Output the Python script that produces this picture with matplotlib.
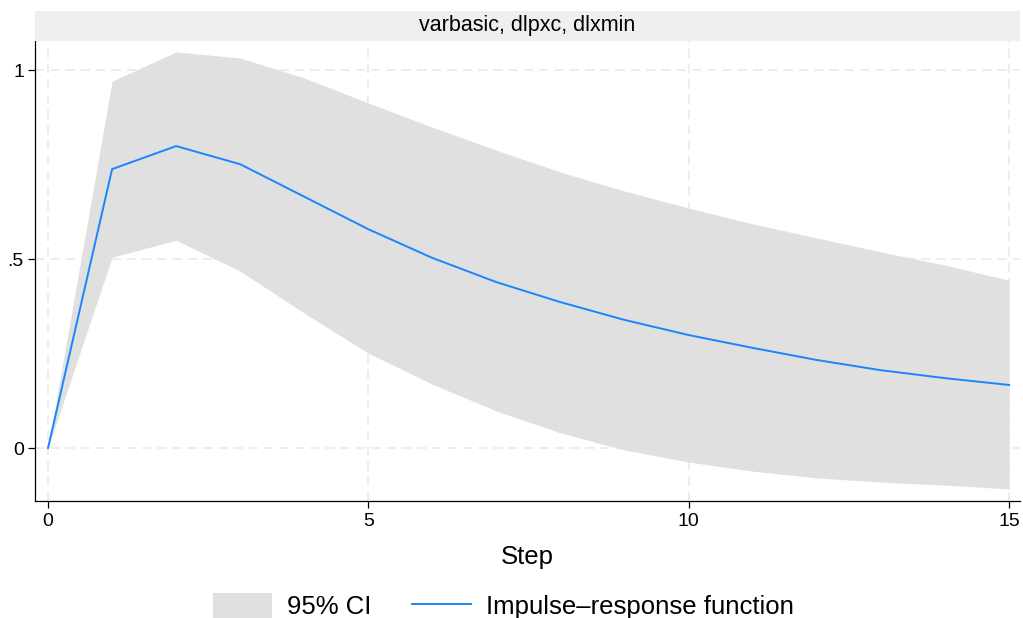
import numpy as np
import matplotlib.pyplot as plt
from matplotlib.patches import Patch
from matplotlib.lines import Line2D

plt.rcParams['font.family'] = ['Liberation Sans', 'DejaVu Sans']

# 数据
steps = np.arange(16)
irf = [0.0, 0.738, 0.799, 0.751, 0.665, 0.579, 0.503, 0.439, 0.386,
       0.339, 0.299, 0.265, 0.233, 0.206, 0.185, 0.167]
ci_upper = [0.0, 0.971, 1.048, 1.032, 0.979, 0.913, 0.849, 0.788, 0.730,
            0.680, 0.635, 0.593, 0.556, 0.519, 0.484, 0.444]
ci_lower = [0.0, 0.505, 0.550, 0.468, 0.357, 0.251, 0.169, 0.098, 0.040,
            -0.005, -0.037, -0.061, -0.079, -0.090, -0.098, -0.108]
panel_title = "varbasic, dlpxc, dlxmin"
x_ticks = [0, 5, 10, 15]
y_ticks = [0, 0.5, 1]
y_ticklabels = ["0", ".5", "1"]

W, H = 1023, 618
fig = plt.figure(figsize=(W / 100, H / 100), dpi=100)

# 主图
ax = fig.add_axes([35 / W, (H - 501) / H, 985 / W, 460 / H])
ax.fill_between(steps, ci_lower, ci_upper, color='#e0e0e0', lw=0, zorder=1)
ax.plot(steps, irf, color='#1a85ff', lw=1.4, zorder=3)

ax.set_xlim(-0.203, 15.17)
ax.set_ylim(-0.140, 1.077)
ax.set_xticks(x_ticks)
ax.set_yticks(y_ticks)
ax.set_yticklabels(y_ticklabels)
ax.tick_params(axis='both', labelsize=14, length=5, width=0.9, direction='out')
ax.tick_params(axis='x', pad=4)
ax.tick_params(axis='y', pad=3)
ax.grid(True, color='#e8e8e8', ls=(0, (6, 4)), lw=1.1, zorder=0)
ax.set_axisbelow(True)
for s in ['top', 'right']:
    ax.spines[s].set_visible(False)
for s in ['left', 'bottom']:
    ax.spines[s].set_linewidth(0.9)
ax.set_xlabel("Step", fontsize=18.5)
ax.xaxis.set_label_coords(0.5, -0.095)

# 标题条
hax = fig.add_axes([35 / W, (H - 41) / H, 985 / W, 30 / H])
hax.set_facecolor('#efefef')
hax.set_xticks([])
hax.set_yticks([])
for s in hax.spines.values():
    s.set_visible(False)
hax.text(0.5, 0.5, panel_title, ha='center', va='center', fontsize=15.5,
         transform=hax.transAxes)

# 图例
handles = [Patch(facecolor='#e0e0e0', edgecolor='none'),
           Line2D([0], [0], color='#1a85ff', lw=1.4)]
labels = ["95% CI", "Impulse\u2013response function"]
fig.legend(handles, labels, loc='center', bbox_to_anchor=(0.492, 12 / H),
           ncol=2, frameon=False, fontsize=18.5, handlelength=2.3, handleheight=1.17,
           columnspacing=1.6, handletextpad=0.58, borderpad=0)

plt.savefig('out.png', dpi=100)
